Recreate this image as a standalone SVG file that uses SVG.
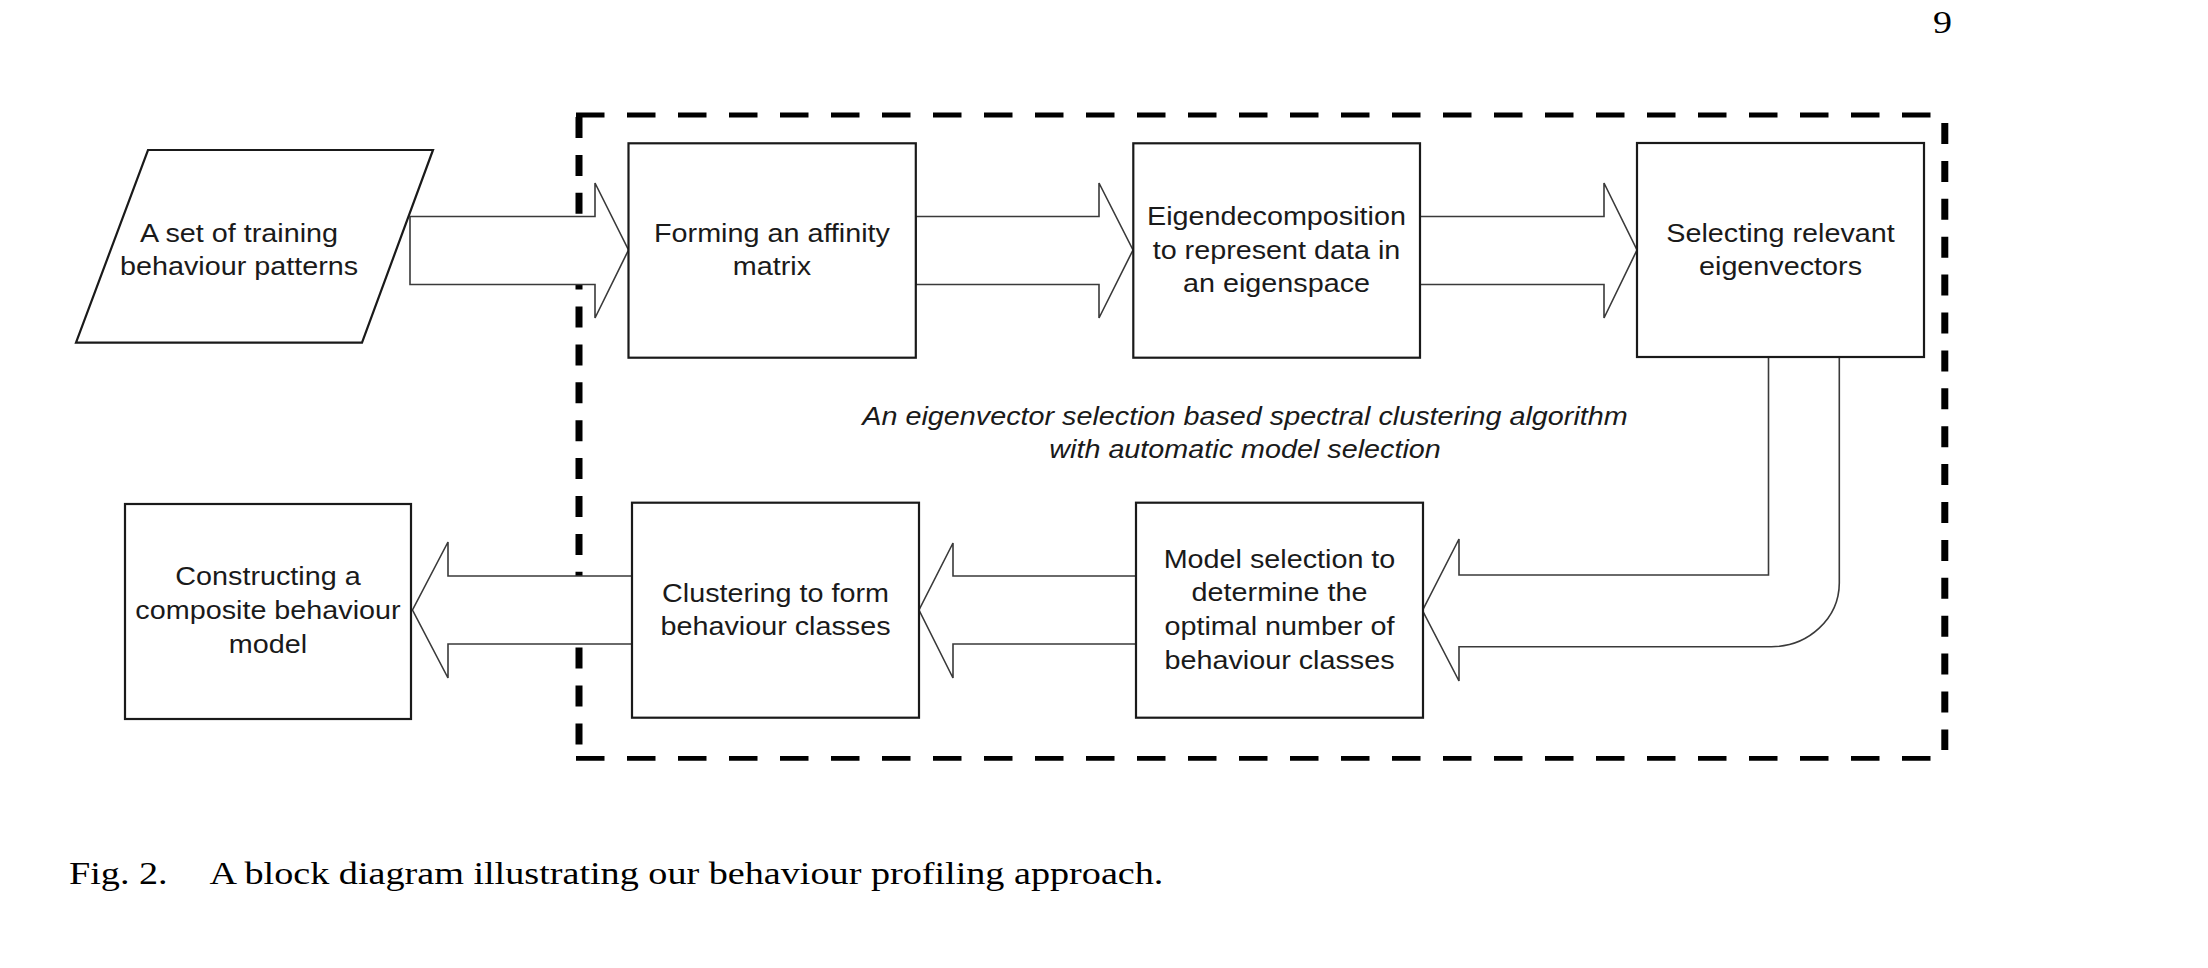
<svg xmlns="http://www.w3.org/2000/svg" width="2208" height="968" viewBox="0 0 2208 968">
<style>
.lbl{font-family:"Liberation Sans",Arial,sans-serif;font-size:25px;fill:#1a1a1a;text-anchor:middle}
.it{font-style:italic}
.cap{font-family:"Liberation Serif","Times New Roman",serif;font-size:32.5px;fill:#000}
.box{fill:#fff;stroke:#1a1a1a;stroke-width:2.2}
.arr{fill:#fff;stroke:#3a3a3a;stroke-width:1.6;stroke-linejoin:miter}
.dh{fill:none;stroke:#000;stroke-width:4.8;stroke-dasharray:28.5 22.5}
.dv{fill:none;stroke:#000;stroke-width:7;stroke-dasharray:21 16.9}
</style>
<rect width="2208" height="968" fill="#fff"/>
<text class="cap" transform="matrix(1.17 0 0 1 1933 33)" font-size="27">9</text>
<g id="group-frame">
<path class="dh" d="M576,115 L1934,115"/>
<path class="dh" d="M576,758.3 L1934,758.3"/>
<path class="dv" d="M579,117 L579,750"/>
<path class="dv" d="M1944.8,123 L1944.8,750"/>
<text class="lbl it" transform="matrix(1.15 0 0 1 1245 424.5)"><tspan x="0" y="0">An eigenvector selection based spectral clustering algorithm</tspan><tspan x="0" dy="34">with automatic model selection</tspan></text>
</g>
<g id="connectors">
<path class="arr" d="M410,216.5 L595,216.5 L595,183 L628.5,250 L595,318 L595,284.5 L410,284.5 Z"/>
<path class="arr" d="M916,216.5 L1099,216.5 L1099,183 L1133,250 L1099,318 L1099,284.5 L916,284.5 Z"/>
<path class="arr" d="M1420,216.5 L1604,216.5 L1604,183 L1637,250 L1604,318 L1604,284.5 L1420,284.5 Z"/>
<path class="arr" d="M1839.3,357 L1839.3,583 A68,64 0 0 1 1771,646.7 L1459,646.7 L1459,681 L1422.5,610.5 L1459,539 L1459,575 L1768.5,575 L1768.5,357 Z"/>
<path class="arr" d="M1136,576 L953,576 L953,543 L919,610 L953,678 L953,644 L1136,644 Z"/>
<path class="arr" d="M632,576 L448,576 L448,542 L412.5,610 L448,678 L448,644 L632,644 Z"/>
</g>
<g id="input">
<path class="box" d="M148,150 L433,150 L362,342.7 L76,342.7 Z" stroke-width="1.6"/>
<text class="lbl" transform="matrix(1.15 0 0 1 239 241.5)"><tspan x="0" y="0">A set of training</tspan><tspan x="0" dy="34">behaviour patterns</tspan></text>
</g>
<g id="affinity">
<rect class="box" x="628.5" y="143.3" width="287.3" height="214.4"/>
<text class="lbl" transform="matrix(1.15 0 0 1 772 241.5)"><tspan x="0" y="0">Forming an affinity</tspan><tspan x="0" dy="34">matrix</tspan></text>
</g>
<g id="eigen">
<rect class="box" x="1133.3" y="143.3" width="286.7" height="214.4"/>
<text class="lbl" transform="matrix(1.15 0 0 1 1276.5 225)"><tspan x="0" y="0">Eigendecomposition</tspan><tspan x="0" dy="33.7">to represent data in</tspan><tspan x="0" dy="33.7">an eigenspace</tspan></text>
</g>
<g id="selecting">
<rect class="box" x="1637" y="143" width="287" height="214"/>
<text class="lbl" transform="matrix(1.15 0 0 1 1780.5 241.5)"><tspan x="0" y="0">Selecting relevant</tspan><tspan x="0" dy="34">eigenvectors</tspan></text>
</g>
<g id="model">
<rect class="box" x="1136" y="502.7" width="287" height="215"/>
<text class="lbl" transform="matrix(1.15 0 0 1 1279.5 567.5)"><tspan x="0" y="0">Model selection to</tspan><tspan x="0" dy="33.7">determine the</tspan><tspan x="0" dy="33.7">optimal number of</tspan><tspan x="0" dy="33.7">behaviour classes</tspan></text>
</g>
<g id="clustering">
<rect class="box" x="632" y="502.7" width="287" height="215"/>
<text class="lbl" transform="matrix(1.15 0 0 1 775.5 601.5)"><tspan x="0" y="0">Clustering to form</tspan><tspan x="0" dy="34">behaviour classes</tspan></text>
</g>
<g id="composite">
<rect class="box" x="125" y="504" width="286" height="215"/>
<text class="lbl" transform="matrix(1.15 0 0 1 268 584.5)"><tspan x="0" y="0">Constructing a</tspan><tspan x="0" dy="34.5">composite behaviour</tspan><tspan x="0" dy="34.5">model</tspan></text>
</g>
<g id="caption">
<text class="cap" transform="matrix(1.175 0 0 1 69 883.5)">Fig. 2.</text>
<text class="cap" transform="matrix(1.175 0 0 1 209.5 883.5)">A block diagram illustrating our behaviour profiling approach.</text>
</g>
</svg>
